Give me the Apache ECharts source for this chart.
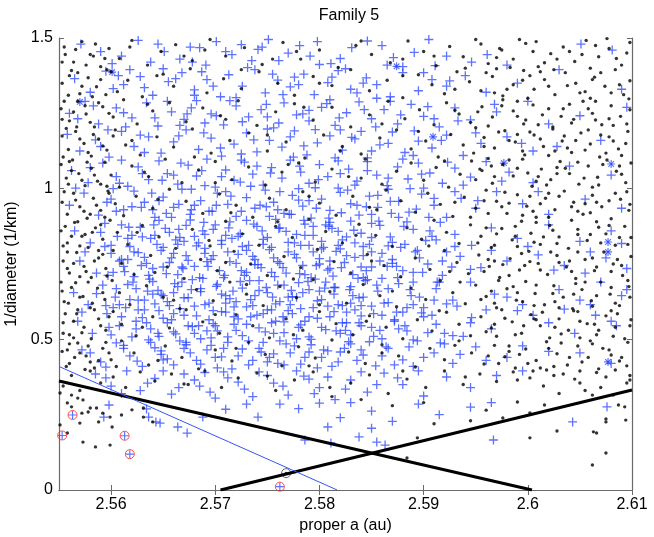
<!DOCTYPE html>
<html>
<head>
<meta charset="utf-8">
<script src="https://cdn.jsdelivr.net/npm/echarts@6/dist/echarts.min.js"></script>
<style>
  html, body { margin: 0; padding: 0; background: #fff; }
  #chart { width: 654px; height: 537px; }
</style>
</head>
<body>
<div id="chart"></div>
<script>
// values are stored as flat pairs: a = (proper a - 2.555) in 1e-4 au, d = 1/diameter in 1e-3 /km
const xTicks = [2.56, 2.57, 2.58, 2.59, 2.6, 2.61];
const yTicks = [0, 0.5, 1, 1.5];

// family members (blue +), read band by band from the top
const crossTop = [21,1480, 51,1415, 76,1492, 101,1455, 116,1430, 126,1470, 141,1410, 151,1488, 166,1445, 181,1402, 191,1462, 201,1495, 211,1425, 231,1475, 241,1440, 261,1415, 281,1468, 296,1490, 321,1435, 341,1452, 361,1408, 396,1420, 411,1445, 501,1480, 531,1460, 60,1440, 88,1420, 135,1468, 175,1478, 220,1450, 250,1412, 270,1432, 310,1475, 330,1405, 372,1440,
  15,1365, 30,1320, 45,1390, 62,1345, 78,1372, 90,1310, 105,1355, 118,1385, 130,1328, 142,1362, 155,1305, 163,1378, 176,1340, 188,1395, 198,1318, 210,1360, 222,1338, 235,1380, 245,1312, 258,1352, 268,1392, 280,1330, 295,1368, 305,1345, 318,1305, 330,1385, 345,1325, 358,1362, 372,1340, 390,1375, 410,1320, 440,1350, 480,1395, 540,1330, 100,1398, 170,1302, 226,1370, 286,1318, 52,1332, 137,1388,
  10,1250, 25,1290, 38,1215, 55,1268, 70,1235, 84,1285, 95,1208, 108,1255, 120,1230, 132,1292, 146,1248, 158,1212, 170,1275, 182,1238, 194,1262, 206,1202, 216,1285, 228,1245, 240,1225, 252,1270, 265,1210, 276,1252, 288,1288, 300,1232, 312,1262, 325,1215, 338,1280, 350,1240, 365,1205, 380,1268, 395,1228, 420,1255, 450,1290, 470,1215, 500,1242, 545,1270, 64,1205, 140,1218, 200,1238, 260,1295, 318,1290, 240,1260,
  40,1455, 68,1395, 95,1480, 112,1365, 128,1420, 148,1340, 160,1455, 185,1425, 205,1380, 230,1345, 248,1488, 275,1398, 292,1350, 315,1410, 350,1385, 375,1358, 82,1335, 195,1470, 262,1370, 305,1300, 355,1495, 430,1410, 130,1310, 215,1312, 57,1375];

const crossUpper = [8,1180, 20,1125, 35,1162, 48,1105, 60,1190, 72,1140, 86,1172, 98,1118, 110,1155, 122,1195, 134,1130, 146,1168, 156,1108, 168,1148, 180,1185, 190,1122, 202,1160, 214,1138, 226,1192, 238,1112, 248,1152, 260,1175, 272,1128, 284,1165, 296,1102, 308,1145, 320,1188, 332,1120, 345,1158, 358,1135, 372,1178, 388,1110, 405,1150, 430,1172, 455,1125, 478,1140, 520,1160, 115,1175, 175,1115, 235,1142, 290,1190, 340,1110, 40,1140, 265,1102, 200,1198,
  12,1060, 28,1020, 42,1085, 55,1040, 66,1008, 76,1072, 86,1030, 96,1092, 104,1050, 114,1015, 124,1078, 132,1042, 142,1098, 150,1005, 160,1062, 168,1028, 178,1088, 186,1048, 196,1012, 204,1070, 214,1035, 222,1095, 232,1055, 240,1018, 250,1080, 258,1040, 268,1002, 278,1065, 286,1025, 296,1090, 305,1045, 315,1010, 325,1072, 335,1032, 345,1085, 356,1052, 368,1018, 380,1068, 395,1038, 410,1090, 432,1055, 455,1020, 490,1075, 530,1045, 110,1045, 190,1075, 270,1050, 350,1002, 60,1095, 230,1000,
  10,945, 24,985, 38,912, 50,965, 62,930, 72,992, 82,955, 92,905, 100,972, 110,938, 118,998, 126,915, 136,960, 144,925, 152,985, 162,948, 170,908, 180,970, 188,935, 198,995, 206,955, 216,918, 224,978, 234,942, 242,902, 252,965, 260,928, 270,988, 280,950, 288,912, 298,975, 306,938, 316,998, 326,958, 336,922, 348,982, 360,945, 372,905, 386,968, 400,935, 420,990, 445,950, 470,915, 505,965, 540,935, 90,930, 160,990, 230,962, 300,915, 380,990, 130,945, 210,930,
  18,1232, 33,1275, 47,1195, 62,1252, 78,1178, 92,1235, 104,1290, 116,1210, 127,1268, 139,1185, 151,1242, 164,1292, 176,1222, 187,1162, 199,1280, 211,1218, 222,1172, 234,1248, 246,1196, 257,1282, 269,1235, 281,1170, 293,1262, 304,1205, 316,1150, 328,1245, 341,1192, 354,1272, 367,1160, 383,1225, 400,1185, 418,1280, 444,1150, 82,1120, 155,1135, 225,1105, 300,1125, 360,1232, 123,1248, 270,1195,
  16,1002, 30,1070, 46,955, 58,1018, 70,940, 80,1050, 89,985, 99,1028, 108,905, 117,1085, 127,998, 137,1060, 147,925, 156,1040, 165,975, 175,1095, 184,1008, 193,945, 203,1052, 212,990, 221,915, 231,1075, 240,960, 249,1030, 259,902, 268,1092, 277,995, 286,945, 296,1060, 306,978, 316,1035, 326,905, 337,1000, 348,1048, 360,968, 373,1088, 388,1012, 402,960, 425,1025, 460,990, 96,960, 174,1022, 246,1003, 318,958, 52,1000, 140,1010, 202,908, 284,1012, 330,1098, 115,948];

const crossCore = [15,860, 30,820, 44,885, 56,842, 68,808, 78,872, 88,835, 96,895, 106,855, 114,815, 122,878, 130,842, 140,802, 148,865, 156,828, 164,890, 174,850, 182,812, 190,875, 200,838, 208,898, 218,858, 226,820, 236,882, 244,845, 254,805, 262,868, 272,830, 280,892, 290,852, 298,815, 308,878, 318,840, 328,805, 340,865, 352,828, 366,888, 380,848, 396,812, 415,870, 440,835, 470,880, 500,825, 530,860, 120,825, 195,860, 260,888, 320,822, 70,845, 240,812, 160,845,
  20,760, 36,720, 50,785, 62,742, 72,708, 82,772, 90,735, 98,795, 106,755, 114,715, 122,778, 130,742, 138,702, 146,765, 154,728, 162,790, 170,752, 178,712, 186,775, 194,738, 202,798, 210,758, 218,720, 226,782, 234,745, 242,705, 250,768, 258,730, 266,792, 274,755, 282,715, 292,778, 300,740, 310,702, 320,765, 330,728, 342,790, 354,750, 368,712, 385,775, 405,738, 430,760, 460,780, 485,745, 505,720, 525,770, 545,735, 100,740, 180,722, 250,750, 140,785, 300,790, 60,765,
  14,655, 28,615, 42,680, 54,640, 64,605, 74,668, 82,630, 90,692, 98,650, 106,612, 114,675, 120,638, 128,698, 136,658, 144,620, 152,682, 160,645, 168,608, 176,670, 184,632, 192,695, 200,655, 208,618, 216,680, 224,642, 232,602, 240,665, 248,628, 256,690, 264,650, 272,612, 280,675, 288,638, 296,698, 306,660, 316,622, 326,685, 338,645, 350,605, 362,668, 378,630, 395,690, 418,650, 445,615, 480,665, 500,630, 520,690, 540,645, 110,655, 170,625, 230,688, 290,612, 85,660, 205,640, 265,672,
  18,560, 32,520, 46,585, 58,545, 70,508, 80,572, 88,535, 96,595, 104,555, 112,518, 120,580, 128,542, 136,502, 144,565, 152,528, 160,590, 168,550, 176,512, 184,575, 192,538, 200,598, 208,560, 216,522, 224,585, 232,548, 240,508, 248,570, 256,532, 264,592, 272,555, 280,515, 290,578, 300,540, 310,502, 322,565, 334,528, 348,588, 362,550, 378,512, 396,572, 415,535, 440,595, 470,555, 495,520, 515,580, 535,545, 150,545, 215,575, 275,530, 330,590, 95,520,
  25,790, 40,855, 52,722, 60,880, 72,790, 80,840, 86,712, 94,815, 102,868, 110,785, 118,740, 126,896, 134,820, 142,758, 150,880, 158,705, 166,835, 172,782, 180,895, 188,748, 196,815, 204,722, 212,870, 220,790, 228,848, 236,715, 244,875, 252,800, 260,735, 268,858, 276,778, 284,820, 292,705, 300,885, 308,760, 316,810, 324,742, 334,890, 344,795, 356,860, 368,760, 380,808, 395,732, 415,795, 450,808, 475,730, 510,790, 540,818, 66,765, 138,860, 206,770, 270,800, 340,722, 112,830, 232,812, 290,740, 176,808, 44,808, 362,830, 256,880,
  22,590, 36,652, 48,540, 58,615, 66,682, 74,560, 82,598, 90,650, 96,510, 104,625, 110,585, 118,690, 124,545, 130,610, 136,668, 142,528, 148,595, 156,650, 162,508, 168,575, 174,692, 180,550, 186,612, 192,662, 198,525, 204,598, 210,680, 216,558, 222,615, 228,502, 234,655, 240,575, 246,700, 252,540, 258,610, 264,672, 270,520, 276,590, 282,645, 288,555, 294,695, 300,610, 308,530, 316,668, 324,590, 332,545, 340,690, 350,575, 360,630, 370,520, 382,610, 395,555, 410,598, 430,640, 455,580, 485,600, 510,615, 530,560, 545,665, 100,570, 160,620, 220,640, 280,620, 340,615, 130,520, 190,580, 250,660, 310,580, 76,630, 45,612, 365,690];

// the densest part of the family, 0.45 < 1/D < 0.95
const crossDense = [55,925, 67,872, 79,938, 91,880, 103,918, 115,865, 127,930, 139,888, 151,945, 163,870, 175,925, 187,882, 199,940, 211,868, 223,915, 235,895, 247,935, 259,875, 271,920, 283,862, 295,940, 307,892, 319,918, 331,875, 343,932, 355,905,
  50,812, 58,760, 66,835, 76,788, 84,752, 92,845, 100,805, 108,770, 116,838, 124,762, 132,810, 140,848, 148,778, 156,815, 164,758, 172,842, 180,795, 188,765, 196,832, 204,805, 212,752, 220,822, 228,770, 236,845, 244,790, 252,825, 260,760, 268,812, 276,840, 284,772, 292,808, 300,838, 310,785, 320,752, 332,815, 346,770, 358,842, 372,790,
  47,712, 55,668, 63,725, 71,690, 79,745, 87,700, 95,662, 103,718, 111,685, 119,735, 127,665, 135,705, 143,742, 151,676, 159,712, 167,660, 175,728, 183,695, 191,748, 199,672, 207,708, 215,738, 223,662, 231,718, 239,692, 247,745, 255,670, 263,710, 271,738, 279,665, 287,702, 295,728, 305,680, 315,742, 325,705, 337,665, 349,722, 363,690, 377,740,
  52,605, 60,575, 68,632, 76,598, 84,555, 92,618, 100,645, 108,565, 116,602, 124,638, 132,578, 140,615, 148,552, 156,592, 164,635, 172,568, 180,608, 188,645, 196,585, 204,555, 212,625, 220,595, 228,640, 236,560, 244,605, 252,632, 260,575, 268,615, 276,555, 284,598, 292,640, 302,585, 312,620, 322,560, 334,605, 346,640, 358,580, 372,618,
  50,515, 62,480, 74,535, 86,498, 98,462, 110,525, 122,490, 134,545, 146,505, 158,470, 170,530, 182,495, 194,458, 206,520, 218,485, 230,540, 242,500, 254,465, 266,528, 278,492, 290,545, 302,510, 314,475, 326,535, 340,498, 354,522, 370,485, 388,510];

const crossLow = [22,465, 40,425, 55,488, 68,445, 80,410, 92,472, 104,435, 116,495, 126,455, 136,418, 146,480, 156,442, 166,402, 176,468, 186,430, 196,490, 206,452, 216,415, 226,478, 236,440, 248,405, 258,462, 268,425, 280,485, 292,448, 304,412, 316,470, 330,432, 344,495, 360,455, 378,420, 400,475, 430,440, 470,460, 120,470, 200,425, 270,458, 340,410,
  30,455, 45,408, 62,470, 75,428, 88,490, 98,450, 110,415, 122,482, 132,430, 142,465, 152,405, 162,490, 172,445, 182,415, 192,470, 202,440, 212,495, 222,455, 232,418, 242,482, 252,440, 262,410, 274,470, 286,430, 298,492, 310,445, 322,415, 336,475, 350,440, 366,488, 385,450, 410,430, 445,478, 500,455, 530,420, 150,440, 210,420, 290,465, 240,458, 100,432,
  35,385, 50,345, 65,395, 78,330, 92,370, 108,318, 120,385, 135,345, 150,305, 162,372, 178,335, 192,392, 206,355, 220,315, 235,378, 250,340, 265,300, 280,365, 296,325, 312,388, 330,350, 350,312, 372,375, 395,340, 420,380, 445,395, 140,390, 240,368,
  45,372, 60,320, 85,355, 100,395, 115,340, 130,365, 145,325, 158,392, 172,358, 186,310, 200,380, 215,345, 228,395, 245,320, 258,375, 275,335, 290,392, 305,350, 325,372, 345,395,
  48,282, 43,242, 84,269, 86,242, 97,222, 93,226, 114,209, 123,189, 138,242, 160,268, 191,242, 212,285, 236,166, 261,156, 288,176, 258,209, 230,270, 270,240, 300,262, 320,228, 345,285, 365,250, 395,275, 415,290, 300,205, 280,290, 250,288, 180,285,
  305,159, 313,149, 417,166, 493,226, 526,276];

// asterisk members
const starPts = [51,1387, 20,1288, 324,1406, 359,1172, 427,1085, 530,1082, 527,823, 527,790, 527,425];

// background asteroids (black dots)
const dotTop = [5,1470, 14,1420, 22,1488, 30,1445, 40,1405, 48,1465, 58,1432, 70,1492, 85,1410, 98,1455, 112,1478, 128,1425, 145,1495, 160,1440, 178,1468, 195,1412, 215,1485, 232,1430, 250,1460, 268,1402, 285,1475, 300,1445, 318,1418, 335,1490, 350,1455, 362,1408, 375,1472, 388,1438, 400,1495, 412,1415, 425,1460, 436,1430, 448,1482, 460,1405, 472,1448, 484,1470, 495,1422, 506,1492, 518,1438, 528,1465, 540,1410, 548,1485, 455,1455, 390,1400, 510,1400, 330,1430, 228,1455, 120,1440,
  3,1350, 12,1392, 20,1315, 28,1368, 36,1338, 46,1395, 56,1322, 66,1360, 80,1305, 94,1375, 110,1340, 126,1398, 142,1318, 158,1365, 175,1332, 192,1388, 210,1350, 226,1310, 244,1372, 262,1342, 280,1395, 298,1325, 315,1360, 330,1302, 345,1378, 358,1345, 370,1315, 382,1388, 394,1355, 405,1325, 416,1372, 426,1308, 436,1345, 446,1392, 456,1330, 466,1362, 476,1312, 486,1385, 496,1350, 505,1322, 514,1370, 524,1340, 534,1395, 542,1312, 548,1358, 420,1398, 470,1340, 510,1300, 380,1330, 445,1360,
  2,1265, 10,1225, 18,1290, 26,1248, 34,1205, 42,1272, 52,1238, 62,1295, 75,1215, 90,1258, 106,1285, 122,1222, 138,1268, 155,1242, 172,1292, 190,1210, 208,1255, 226,1282, 244,1228, 262,1270, 280,1205, 298,1245, 316,1290, 332,1232, 346,1262, 360,1212, 372,1285, 384,1248, 395,1220, 406,1272, 416,1238, 426,1295, 436,1258, 446,1215, 455,1278, 464,1245, 474,1205, 484,1265, 494,1230, 503,1290, 512,1250, 521,1212, 530,1275, 539,1240, 547,1298, 450,1300, 490,1280, 400,1202, 515,1228, 440,1240];

const dotUpper = [3,1175, 9,1130, 16,1190, 24,1150, 31,1108, 38,1165, 46,1128, 54,1195, 64,1145, 78,1112, 94,1172, 110,1138, 128,1198, 146,1118, 164,1160, 182,1185, 200,1125, 218,1155, 236,1102, 254,1178, 272,1140, 290,1115, 308,1168, 324,1195, 338,1132, 352,1158, 364,1105, 376,1180, 388,1145, 398,1118, 408,1170, 418,1135, 428,1192, 438,1155, 447,1112, 456,1178, 465,1140, 474,1198, 483,1158, 492,1120, 501,1185, 510,1148, 519,1105, 528,1172, 537,1132, 546,1190, 470,1110, 505,1128, 532,1158, 412,1100, 485,1175, 440,1180,
  2,1080, 7,1035, 13,1095, 19,1050, 25,1010, 31,1068, 37,1025, 44,1088, 50,1045, 58,1005, 70,1075, 86,1040, 102,1098, 118,1020, 134,1062, 150,1090, 166,1030, 182,1072, 198,1012, 214,1055, 230,1085, 246,1022, 262,1065, 278,1040, 294,1098, 310,1015, 324,1058, 338,1085, 350,1028, 362,1070, 374,1005, 385,1048, 396,1092, 406,1060, 416,1018, 426,1080, 436,1042, 445,1098, 454,1008, 463,1065, 472,1030, 481,1090, 490,1050, 499,1015, 508,1075, 517,1038, 526,1095, 535,1058, 544,1020, 549,1085, 400,1030, 460,1040, 512,1005, 478,1070,
  3,955, 8,915, 14,985, 20,940, 27,902, 33,968, 40,928, 47,992, 54,950, 62,910, 74,975, 90,935, 106,998, 122,958, 138,918, 154,982, 170,945, 186,905, 202,968, 218,930, 234,990, 250,952, 266,912, 282,975, 298,938, 314,995, 328,960, 342,922, 354,985, 366,948, 378,908, 389,972, 400,935, 410,995, 420,958, 430,918, 440,980, 449,942, 458,905, 467,968, 476,930, 485,992, 494,955, 503,915, 512,978, 521,940, 530,900, 539,965, 547,928, 425,940, 470,985, 505,950, 395,905, 455,925];

const dotCore = [2,860, 8,820, 15,888, 22,842, 28,805, 35,870, 42,832, 49,895, 56,855, 66,815, 80,878, 96,840, 112,802, 128,865, 144,828, 160,892, 176,850, 192,812, 208,875, 224,838, 240,898, 256,858, 272,820, 288,882, 304,845, 320,808, 334,870, 348,832, 360,895, 372,855, 384,818, 395,880, 405,842, 415,805, 425,868, 435,830, 444,892, 453,852, 462,815, 471,878, 480,840, 489,802, 498,865, 507,828, 516,890, 525,850, 534,812, 543,875, 549,838, 410,870, 465,840, 520,820, 440,808,
  4,760, 10,720, 17,788, 24,742, 31,705, 38,770, 45,735, 52,795, 60,752, 72,715, 88,778, 104,740, 120,702, 136,765, 152,728, 168,792, 184,750, 200,712, 216,775, 232,738, 248,798, 264,758, 280,720, 296,782, 312,745, 328,708, 342,770, 356,732, 370,795, 382,755, 393,718, 403,780, 413,742, 423,705, 433,768, 442,730, 451,792, 460,752, 469,715, 478,778, 487,740, 496,702, 505,765, 514,728, 523,790, 532,750, 541,712, 549,775, 418,760, 447,745, 490,760, 530,725,
  3,660, 9,620, 16,688, 23,642, 30,605, 37,670, 44,632, 51,695, 58,655, 68,615, 84,678, 100,640, 116,602, 132,665, 148,628, 164,690, 180,650, 196,612, 212,675, 228,638, 244,698, 260,658, 276,620, 292,682, 308,645, 324,608, 338,670, 352,632, 366,695, 378,655, 390,618, 400,680, 410,642, 420,605, 430,668, 439,630, 448,692, 457,652, 466,615, 475,678, 484,640, 493,602, 502,665, 511,628, 520,690, 529,650, 538,612, 547,675, 415,660, 445,625, 480,605, 505,690,
  4,555, 10,515, 17,585, 24,540, 31,502, 38,568, 45,530, 52,592, 60,550, 74,512, 90,575, 106,538, 122,598, 138,558, 154,520, 170,582, 186,545, 202,505, 218,568, 234,530, 250,592, 266,552, 282,515, 298,578, 314,540, 330,502, 344,565, 358,528, 372,590, 384,550, 395,512, 405,575, 415,538, 425,598, 435,558, 444,520, 453,582, 462,545, 471,505, 480,568, 489,530, 498,592, 507,552, 516,515, 525,578, 534,540, 543,502, 549,565, 420,510, 458,565, 500,505, 530,595];

const dotLow = [3,460, 10,420, 18,488, 26,445, 34,405, 42,470, 50,432, 60,495, 72,455, 86,415, 102,478, 118,440, 134,402, 150,465, 166,428, 182,490, 198,450, 214,412, 230,475, 246,438, 262,498, 278,458, 294,420, 310,482, 326,445, 342,408, 356,470, 370,432, 384,495, 396,455, 408,418, 418,480, 428,442, 438,405, 448,468, 458,430, 468,492, 478,452, 488,415, 498,478, 508,440, 518,402, 528,465, 538,428, 546,490, 432,460, 475,410, 512,485,
  4,345, 12,380, 20,330, 30,395, 40,355, 52,375, 64,340, 78,392, 92,362, 108,385, 124,350, 140,395, 156,340, 172,372, 190,388, 208,330, 226,365, 244,392, 262,310, 280,355, 298,382, 316,320, 334,368, 352,340, 370,395, 388,350, 404,385, 420,360, 436,392, 452,372, 468,398, 484,385, 500,395, 516,390, 534,398, 548,380, 320,280, 290,300, 350,290,
  1,322, 12,315, 18,305, 23,299, 8,289, 12,276, 30,272, 36,272, 22,255, 28,259, 42,255, 49,242, 60,249, 20,222, 38,226, 1,216, 51,209, 8,189, 23,159, 35,143, 49,149, 70,266, 81,272, 81,242, 90,226, 334,106, 344,173, 452,173, 478,196, 513,193, 516,189, 525,123, 512,83, 525,236, 525,226, 544,232, 426,239, 452,256, 440,292, 466,282, 512,315, 532,315, 543,276, 537,282, 395,230, 360,220, 410,265];

// extra background read along the left edge, the right side and the middle
const dotLeftEdge = [6,1445, 16,1462, 26,1410, 35,1480, 44,1432, 10,1375, 22,1340, 32,1305, 40,1362, 50,1388, 5,1290, 14,1255, 30,1220, 38,1285, 48,1250, 7,1200, 20,1165, 28,1120, 42,1142, 52,1175, 4,1105, 12,1060, 22,1028, 34,1045, 46,1008, 5,990, 16,962, 24,925, 36,945, 44,905, 6,875, 12,842, 20,810, 32,855, 40,880, 8,790, 14,752, 26,725, 34,760, 46,710, 2,690, 12,672, 20,640, 28,690, 42,655, 6,585, 14,560, 22,522, 34,598, 48,575, 4,520, 10,485, 20,455, 28,478, 38,430, 7,410, 15,440, 25,400, 48,455, 55,410,
  3,1420, 18,1385, 33,1440, 9,1310, 25,1275, 45,1312, 3,1230, 17,1205, 33,1180, 10,1090, 27,1088, 40,1015, 9,1015, 18,890, 30,915, 48,985, 4,810, 25,848, 38,795, 8,735, 20,708, 42,782, 5,625, 18,598, 32,620, 40,545, 8,465, 14,505, 30,425, 45,490];

const dotRightSide = [405,1480, 420,1435, 442,1495, 466,1418, 490,1455, 515,1475, 535,1432, 545,1450, 410,1385, 430,1330, 452,1375, 475,1395, 500,1318, 520,1385, 538,1345, 402,1255, 425,1275, 448,1228, 470,1265, 492,1218, 515,1290, 532,1210, 548,1262, 408,1140, 422,1188, 445,1125, 462,1165, 488,1135, 508,1195, 525,1118, 544,1150, 404,1065, 418,1040, 432,1095, 450,1052, 468,1012, 486,1068, 504,1035, 522,1080, 540,1048, 408,960, 428,988, 445,912, 462,950, 480,975, 498,925, 516,955, 534,985, 548,948, 402,820, 420,850, 438,875, 456,822, 474,862, 492,895, 510,848, 528,878, 546,815, 408,725, 426,748, 444,785, 462,730, 480,755, 498,790, 516,740, 536,765, 405,632, 422,695, 440,655, 458,680, 476,625, 494,650, 512,610, 530,672, 548,640, 410,525, 428,570, 446,545, 464,590, 482,518, 500,560, 518,530, 536,585, 412,445, 432,478, 450,420, 470,470, 490,440, 510,495, 530,448, 545,412, 440,365, 465,345, 495,368, 520,340, 545,355, 480,320, 505,330,
  423,1465, 458,1488, 478,1430, 502,1445, 526,1498, 433,1402, 462,1388, 488,1342, 512,1362, 530,1318, 418,1318, 440,1290, 460,1212, 482,1240, 508,1265, 528,1232, 545,1215, 412,1208, 432,1160, 452,1188, 476,1125, 496,1160, 520,1178, 540,1110, 415,1075, 440,1068, 458,1025, 478,1050, 498,1088, 518,1012, 538,1075, 412,918, 432,952, 452,975, 470,905, 492,940, 510,920, 528,960, 545,990, 418,812, 438,842, 458,888, 478,818, 498,848, 518,872, 538,838, 412,765, 432,712, 452,758, 472,790, 492,725, 512,770, 540,745, 418,620, 436,675, 456,612, 474,652, 496,685, 516,645, 534,620, 546,695, 418,550, 438,515, 456,568, 476,540, 494,595, 514,550, 532,510, 548,545, 422,420, 442,450, 462,405, 482,488, 502,425, 522,470, 540,440, 455,395, 475,380, 500,355, 525,375, 548,365];

const dotMiddle = [68,1470, 140,1460, 205,1430, 290,1490, 360,1440, 100,1380, 175,1395, 250,1350, 330,1375, 85,1280, 160,1230, 235,1270, 310,1215, 380,1260, 70,1160, 130,1105, 200,1178, 270,1125, 345,1190, 82,1055, 150,1020, 220,1080, 290,1035, 370,1092, 95,965, 165,920, 240,975, 305,930, 380,955, 75,855, 145,810, 210,890, 285,845, 355,810, 92,722, 160,755, 225,700, 300,760, 375,725, 110,630, 180,682, 250,615, 320,660, 385,690, 80,540, 150,582, 225,515, 295,560, 365,595, 95,430, 170,470, 240,412, 310,455, 380,480, 120,352, 200,378, 260,340, 330,395, 390,375];

// flagged objects
const redRing = [3,181, 13,249, 63,180, 68,119, 212,11];
const greyRing = [218,56];

// boundary lines (proper a, 1/D)
const vLeft = [[2.555, 0.362], [2.6004, 0]];
const vRight = [[2.5705, 0], [2.61, 0.332]];
const blueEdge = [[2.555, 0.41], [2.5817, 0]];

const toPts = (flat) => {
  const out = [];
  for (let i = 0; i < flat.length; i += 2) {
    out.push([2.555 + flat[i] / 10000, flat[i + 1] / 1000]);
  }
  return out;
};

// thin "+" (about 1.3 px stroke at 9 px)
const plus = "path://M3.85,0h1.3v3.85h3.85v1.3h-3.85v3.85h-1.3v-3.85h-3.85v-1.3h3.85z";
const blue = "rgba(30,60,255,0.9)";
const font = "Liberation Sans, Arial, Helvetica, sans-serif";
const axisGrey = "#6a6a6a";

const chart = echarts.init(document.getElementById("chart"));

const crossData = toPts([...crossTop, ...crossUpper, ...crossCore, ...crossDense, ...crossLow]);
const dotData = toPts([...dotTop, ...dotUpper, ...dotCore, ...dotLow, ...dotLeftEdge, ...dotRightSide, ...dotMiddle]);

const frame = {
  axisLine: { show: true, lineStyle: { color: axisGrey, width: 1.2 } },
  splitLine: { show: false },
};

const option = {
  backgroundColor: "#fff",
  animation: false,
  textStyle: { fontFamily: font },
  title: {
    text: "Family 5",
    left: 344,
    top: 3,
    textAlign: "center",
    textStyle: { fontSize: 16, fontWeight: "normal", color: "#000", fontFamily: font },
  },
  grid: { left: 59, right: 22, top: 38, bottom: 47, outerBoundsMode: "none" },
  xAxis: [
    {
      type: "value",
      min: 2.555,
      max: 2.61,
      name: "proper a (au)",
      nameLocation: "middle",
      nameGap: 25,
      nameTextStyle: { fontSize: 16, color: "#000", fontFamily: font },
      ...frame,
      axisTick: { inside: true, length: 5, customValues: xTicks, lineStyle: { color: axisGrey } },
      axisLabel: { customValues: xTicks, fontSize: 16, color: "#000", margin: 7, fontFamily: font },
    },
    {
      type: "value",
      position: "top",
      min: 2.555,
      max: 2.61,
      ...frame,
      axisTick: { inside: true, length: 5, customValues: xTicks, lineStyle: { color: axisGrey } },
      axisLabel: { show: false },
    },
  ],
  yAxis: [
    {
      type: "value",
      min: 0,
      max: 1.5,
      interval: 0.5,
      name: "1/diameter (1/km)",
      nameLocation: "middle",
      nameGap: 33,
      nameTextStyle: { fontSize: 16, color: "#000", fontFamily: font },
      ...frame,
      axisTick: { inside: true, length: 5, lineStyle: { color: axisGrey } },
      axisLabel: { fontSize: 16, color: "#000", margin: 6, fontFamily: font },
    },
    {
      type: "value",
      position: "right",
      min: 0,
      max: 1.5,
      interval: 0.5,
      ...frame,
      axisTick: { inside: true, length: 5, lineStyle: { color: axisGrey } },
      axisLabel: { show: false },
    },
  ],
  series: [
    {
      name: "members",
      type: "scatter",
      data: crossData,
      symbol: plus,
      symbolSize: 9,
      itemStyle: { color: blue },
      z: 2,
    },
    {
      name: "members*",
      type: "scatter",
      data: toPts(starPts),
      symbol: plus,
      symbolSize: 8,
      itemStyle: { color: blue },
      z: 2,
    },
    {
      name: "members*x",
      type: "scatter",
      data: toPts(starPts),
      symbol: plus,
      symbolSize: 8,
      symbolRotate: 45,
      itemStyle: { color: blue },
      z: 2,
    },
    {
      name: "background",
      type: "scatter",
      data: dotData,
      symbol: "circle",
      symbolSize: 3.4,
      itemStyle: { color: "#000" },
      z: 3,
    },
    {
      name: "flagged",
      type: "scatter",
      data: toPts(redRing),
      symbol: "circle",
      symbolSize: 9,
      itemStyle: { color: "transparent", borderColor: "#ff2020", borderWidth: 1 },
      z: 4,
    },
    {
      name: "flagged+",
      type: "scatter",
      data: toPts(redRing),
      symbol: plus,
      symbolSize: 8,
      itemStyle: { color: blue },
      z: 4,
    },
    {
      name: "grey ring",
      type: "scatter",
      data: toPts(greyRing),
      symbol: "circle",
      symbolSize: 9,
      itemStyle: { color: "transparent", borderColor: "#444", borderWidth: 1 },
      z: 4,
    },
    {
      name: "grey dot",
      type: "scatter",
      data: toPts(greyRing),
      symbol: "circle",
      symbolSize: 3,
      itemStyle: { color: "#000" },
      z: 4,
    },
    {
      type: "line",
      data: vLeft,
      symbol: "none",
      lineStyle: { color: "#000", width: 3 },
      z: 5,
    },
    {
      type: "line",
      data: vRight,
      symbol: "none",
      lineStyle: { color: "#000", width: 3 },
      z: 5,
    },
    {
      type: "line",
      data: blueEdge,
      symbol: "none",
      lineStyle: { color: "#3355ff", width: 1 },
      z: 5,
    },
  ],
};

chart.setOption(option);
</script>
</body>
</html>
